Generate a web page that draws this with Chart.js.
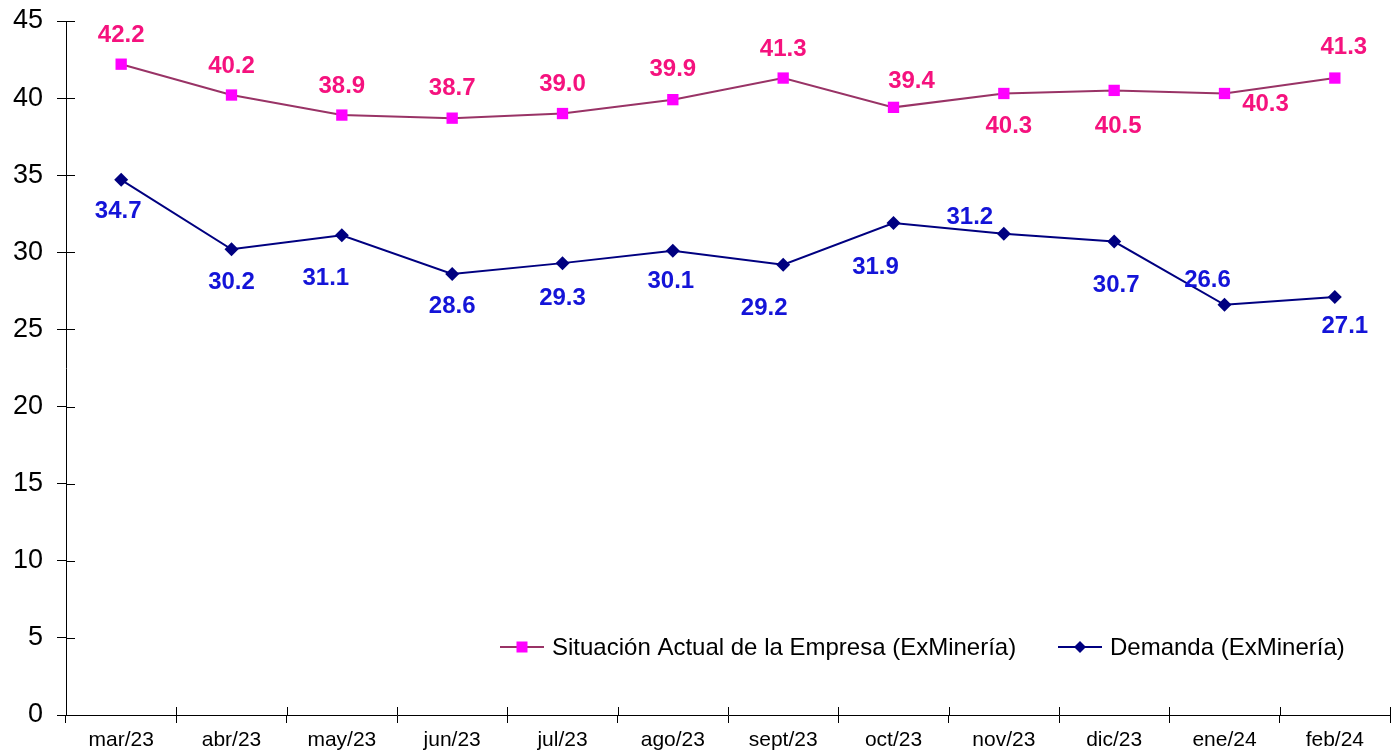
<!DOCTYPE html>
<html>
<head>
<meta charset="utf-8">
<script src="https://cdn.jsdelivr.net/npm/chart.js@4/dist/chart.umd.min.js"></script>
<style>
  html, body { margin: 0; padding: 0; background: #fff; }
  #wrap { width: 1400px; height: 756px; position: relative; }
</style>
</head>
<body>
<div id="wrap"><canvas id="grafico"></canvas></div>
<script>
var meses = ['mar/23','abr/23','may/23','jun/23','jul/23','ago/23','sept/23','oct/23','nov/23','dic/23','ene/24','feb/24'];
var situacion = [42.2, 40.2, 38.9, 38.7, 39.0, 39.9, 41.3, 39.4, 40.3, 40.5, 40.3, 41.3];
var demanda = [34.7, 30.2, 31.1, 28.6, 29.3, 30.1, 29.2, 31.9, 31.2, 30.7, 26.6, 27.1];
var ticksY = [0, 5, 10, 15, 20, 25, 30, 35, 40, 45];

// donde va cada etiqueta respecto a su punto (dx, dy en px)
var posSituacion = [[0,-29],[0,-29],[0,-29],[0,-30],[0,-29],[0,-30],[0,-29],[18,-26],[5,33],[4,36],[41,11],[9,-31]];
var posDemanda = [[-3,32],[0,33],[-16,43],[0,32],[0,35],[-2,31],[-19,44],[-18,44],[-34,-16],[2,44],[-17,-24],[10,29]];

var fuente = "'Liberation Sans', Arial, sans-serif";

var etiquetas = {
  id: 'etiquetas',
  afterDatasetsDraw: function(chart) {
    var ctx = chart.ctx;
    ctx.save();
    ctx.font = 'bold 24px ' + fuente;
    ctx.textAlign = 'center';
    ctx.textBaseline = 'middle';
    chart.data.datasets.forEach(function(ds, i) {
      var meta = chart.getDatasetMeta(i);
      var pos = i === 0 ? posSituacion : posDemanda;
      ctx.fillStyle = i === 0 ? '#F5127E' : '#1414D8';
      meta.data.forEach(function(p, j) {
        ctx.fillText(ds.data[j].toFixed(1), p.x + pos[j][0], p.y + pos[j][1]);
      });
    });
    ctx.restore();
  }
};

// marcas que cruzan el eje + leyenda con linea y marcador
var ejes = {
  id: 'ejes',
  afterDraw: function(chart) {
    var ctx = chart.ctx;
    var y = chart.scales.y;
    var area = chart.chartArea;
    ctx.save();
    ctx.strokeStyle = '#000';
    ctx.lineWidth = 1;
    ctx.beginPath();
    ticksY.forEach(function(v) {
      var py = Math.round(y.getPixelForValue(v)) + 0.5;
      ctx.moveTo(area.left, py);
      ctx.lineTo(area.left + 9, py);
    });
    for (var k = 0; k <= meses.length; k++) {
      var px = Math.round(area.left + (area.right - area.left) * k / meses.length) + 0.5;
      ctx.moveTo(px, area.bottom);
      ctx.lineTo(px, area.bottom - 8);
    }
    ctx.stroke();

    // leyenda
    var items = [
      { x: 500, texto: 'Situación Actual de la Empresa (ExMinería)', linea: '#993366', punto: '#FF00FF', forma: 'rect' },
      { x: 1058, texto: 'Demanda (ExMinería)', linea: '#000080', punto: '#000080', forma: 'rectRot' }
    ];
    var ly = 647;
    ctx.font = '24px ' + fuente;
    ctx.textBaseline = 'middle';
    ctx.textAlign = 'left';
    items.forEach(function(it) {
      ctx.strokeStyle = it.linea;
      ctx.lineWidth = 2;
      ctx.beginPath();
      ctx.moveTo(it.x, ly);
      ctx.lineTo(it.x + 44, ly);
      ctx.stroke();
      ctx.fillStyle = it.punto;
      if (it.forma === 'rect') {
        ctx.fillRect(it.x + 22 - 5.5, ly - 5.5, 11, 11);
      } else {
        ctx.beginPath();
        ctx.moveTo(it.x + 22, ly - 6);
        ctx.lineTo(it.x + 28, ly);
        ctx.lineTo(it.x + 22, ly + 6);
        ctx.lineTo(it.x + 16, ly);
        ctx.closePath();
        ctx.fill();
      }
      ctx.fillStyle = '#000';
      ctx.fillText(it.texto, it.x + 52, ly + 1);
    });
    ctx.restore();
  }
};

var canvas = document.getElementById('grafico').getContext('2d');

var grafico = new Chart(canvas, {
  type: 'line',
  data: {
    labels: meses,
    datasets: [{
      label: 'Situación Actual de la Empresa (ExMinería)',
      data: situacion,
      borderColor: '#993366',
      borderWidth: 2,
      pointStyle: 'rect',
      pointRadius: 8,
      pointBackgroundColor: '#FF00FF',
      pointBorderColor: '#FF00FF',
      pointBorderWidth: 0,
      tension: 0
    }, {
      label: 'Demanda (ExMinería)',
      data: demanda,
      borderColor: '#000080',
      borderWidth: 2,
      pointStyle: 'rectRot',
      pointRadius: 7,
      pointBackgroundColor: '#000080',
      pointBorderColor: '#000080',
      pointBorderWidth: 0,
      tension: 0
    }]
  },
  options: {
    responsive: true,
    maintainAspectRatio: false,
    animation: false,
    layout: { padding: { left: 0, top: 21, right: 10, bottom: 0 } },
    plugins: {
      legend: { display: false },
      tooltip: { enabled: false }
    },
    scales: {
      x: {
        offset: true,
        grid: { offset: true, drawOnChartArea: false, color: '#000', tickLength: 8, tickWidth: 1 },
        border: { color: '#000', width: 1 },
        ticks: { color: '#000', font: { family: fuente, size: 21 }, padding: 5, maxRotation: 0, autoSkip: false },
        afterFit: function(s) { s.height = 41; s.paddingLeft = 0; s.paddingRight = 0; }
      },
      y: {
        min: 0,
        max: 45,
        afterBuildTicks: function(s) { s.ticks = ticksY.map(function(v) { return { value: v }; }); },
        grid: { drawOnChartArea: false, color: '#000', tickLength: 9, tickWidth: 1 },
        border: { color: '#000', width: 1 },
        ticks: { color: '#000', font: { family: fuente, size: 27 }, padding: 14 },
        afterFit: function(s) { s.width = 66; s.paddingTop = 0; s.paddingBottom = 0; }
      }
    }
  },
  plugins: [etiquetas, ejes]
});
</script>
</body>
</html>
